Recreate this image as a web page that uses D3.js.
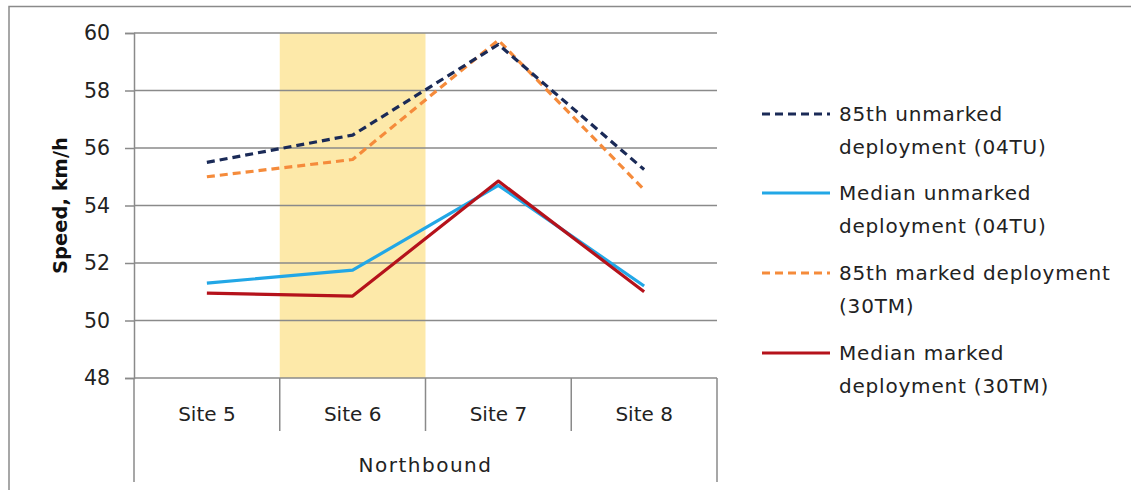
<!DOCTYPE html>
<html>
<head>
<meta charset="utf-8">
<script src="https://cdn.jsdelivr.net/npm/d3@7"></script>
<style>
  html, body { margin: 0; padding: 0; background: #fff; }
  svg { display: block; font-family: "DejaVu Sans", sans-serif; }
</style>
</head>
<body>
<svg id="chart" width="1131" height="490"></svg>
<script>
const sites = ["Site 5", "Site 6", "Site 7", "Site 8"];
const groupLabel = "Northbound";
const highlightSite = "Site 6";
const yTicks = [48, 50, 52, 54, 56, 58, 60];
const yTitle = "Speed, km/h";

const unmarked85 = [55.5, 56.45, 59.6, 55.25];
const unmarkedMedian = [51.3, 51.75, 54.7, 51.2];
const marked85 = [55.0, 55.6, 59.75, 54.55];
const markedMedian = [50.95, 50.85, 54.85, 51.0];

const seriesNames = [
  ["85th unmarked", "deployment (04TU)"],
  ["Median unmarked", "deployment (04TU)"],
  ["85th marked deployment", "(30TM)"],
  ["Median marked", "deployment (30TM)"]
];
const seriesValues = [unmarked85, unmarkedMedian, marked85, markedMedian];
const seriesColors = ["#1a2a57", "#22a7e6", "#f58b3b", "#b5121b"];
const seriesDash = ["8,5", null, "8,5", null];

const svg = d3.select("#chart");
const L = 134, R = 717, T = 33, B = 378;
const grey = "#8a8a8a";

// outer border
svg.append("rect").attr("x", 9).attr("y", 6.5).attr("width", 1200).attr("height", 600)
  .attr("fill", "none").attr("stroke", grey).attr("stroke-width", 1.5);

const x = d3.scaleBand().domain(sites).range([L, R]).padding(0);
const y = d3.scaleLinear().domain([48, 60]).range([B, T]);

// highlight band
svg.append("rect")
  .attr("x", x(highlightSite)).attr("y", y(60))
  .attr("width", x.bandwidth()).attr("height", y(48) - y(60))
  .attr("fill", "#fde9a9");

// gridlines
svg.append("g").selectAll("line").data(yTicks.filter(d => d > 48)).join("line")
  .attr("x1", L).attr("x2", R).attr("y1", d => y(d)).attr("y2", d => y(d))
  .attr("stroke", grey).attr("stroke-width", 1.5);

// y axis
const yAxis = svg.append("g").attr("transform", `translate(${L},0)`)
  .call(d3.axisLeft(y).tickValues(yTicks).tickFormat(d3.format("d")).tickSize(9).tickPadding(15));
yAxis.select(".domain").attr("stroke", grey).attr("stroke-width", 1.5);
yAxis.selectAll(".tick line").attr("stroke", grey).attr("stroke-width", 1.5);
yAxis.selectAll(".tick text").attr("font-size", 20.5).attr("fill", "#222")
  .attr("font-family", "DejaVu Sans, sans-serif");

// y title
svg.append("text")
  .attr("transform", `translate(67,${(T + B) / 2}) rotate(-90)`)
  .attr("text-anchor", "middle")
  .attr("font-size", 19.5).attr("font-weight", "bold").attr("fill", "#111")
  .text(yTitle);

// x axis baseline
svg.append("line").attr("x1", L).attr("x2", R).attr("y1", B).attr("y2", B)
  .attr("stroke", grey).attr("stroke-width", 1.5);

// category dividers
const boundaries = sites.map(s => x(s)).concat([R]);
svg.append("g").selectAll("line").data(boundaries).join("line")
  .attr("x1", d => d).attr("x2", d => d)
  .attr("y1", B)
  .attr("y2", (d, i) => (i === 0 || i === boundaries.length - 1) ? 482 : 431)
  .attr("stroke", grey).attr("stroke-width", 1.5);

// site labels
svg.append("g").selectAll("text").data(sites).join("text")
  .attr("x", d => x(d) + x.bandwidth() / 2).attr("y", 421)
  .attr("text-anchor", "middle").attr("font-size", 20).attr("fill", "#222")
  .text(d => d);

svg.append("text")
  .attr("x", (L + R) / 2).attr("y", 472)
  .attr("text-anchor", "middle").attr("font-size", 20).attr("fill", "#222")
  .attr("letter-spacing", 1.5)
  .text(groupLabel);

// lines
const line = d3.line()
  .x((d, i) => x(sites[i]) + x.bandwidth() / 2)
  .y(d => y(d));

// draw order: median lines, then dashed
const order = [1, 3, 2, 0];
order.forEach(k => {
  svg.append("path")
    .datum(seriesValues[k])
    .attr("d", line)
    .attr("fill", "none")
    .attr("stroke", seriesColors[k])
    .attr("stroke-width", 3.2)
    .attr("stroke-dasharray", seriesDash[k])
    .attr("stroke-linejoin", "round");
});

// legend
const legY = [114, 193, 273, 353];
const leg = svg.append("g");
seriesNames.forEach((lines, k) => {
  leg.append("line")
    .attr("x1", 762).attr("x2", 830)
    .attr("y1", legY[k]).attr("y2", legY[k])
    .attr("stroke", seriesColors[k]).attr("stroke-width", 3.2)
    .attr("stroke-dasharray", seriesDash[k]);
  lines.forEach((t, j) => {
    leg.append("text")
      .attr("x", 839).attr("y", legY[k] + 7 + j * 33)
      .attr("font-size", 20).attr("fill", "#222")
      .attr("letter-spacing", 0.8)
      .text(t);
  });
});
</script>
</body>
</html>
